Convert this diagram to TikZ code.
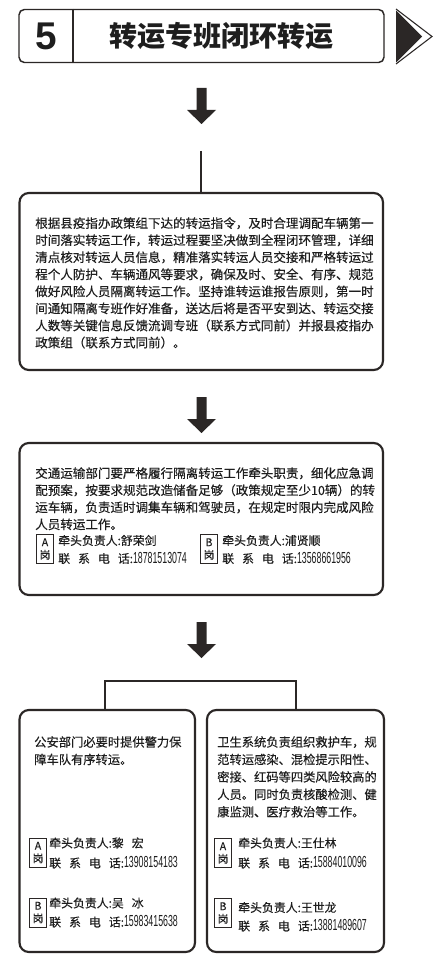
\documentclass[tikz,border=0pt]{standalone}
\usepackage{fontspec}
\setmainfont{Noto Sans CJK SC}[FakeBold=0.3]
\newfontfamily\titlef{Noto Sans CJK SC}
\newfontfamily\latin{Liberation Sans}
\newfontfamily\digitf[FakeStretch=0.55]{Liberation Sans}
\usetikzlibrary{fit}
\definecolor{ink}{HTML}{2B2726}
\definecolor{txt}{HTML}{1E1E1E}
\tikzset{
  every node/.style={text=txt},
  box/.style={draw=ink, line width=1.6pt, rounded corners=7pt, inner sep=0pt},
  hbox/.style={draw=ink, line width=1.1pt, rounded corners=4pt, inner sep=0pt},
  para/.style={anchor=north west, inner sep=0pt, align=left, font=\fontsize{9.4pt}{12.8pt}\selectfont},
  paras/.style={anchor=north west, inner sep=0pt, align=left, font=\fontsize{9.2pt}{13.1pt}\selectfont},
  gang/.style={draw=ink, line width=0.6pt, inner sep=0pt, minimum width=12.75pt, minimum height=21.75pt, align=center, font=\fontsize{8pt}{9.5pt}\selectfont},
  contact/.style={anchor=base west, inner sep=0pt, font=\fontsize{8.9pt}{10pt}\selectfont},
  link/.style={draw=ink, line width=0.8pt},
}
\newcommand\tel[1]{联\hspace{6pt}系\hspace{6pt}电\hspace{6pt}话:{\digitf\fontsize{12pt}{12pt}\selectfont #1}}
\newcommand\blockarrow[2]{\fill[ink] ({#1-5},#2) -- ({#1+5},#2) -- ({#1+5},{#2+22}) -- ({#1+14.5},{#2+22}) -- (#1,{#2+36}) -- ({#1-14.5},{#2+22}) -- ({#1-5},{#2+22}) -- cycle;}
\begin{document}
\begin{tikzpicture}[x=0.75pt, y=-0.75pt]
\useasboundingbox[fill=white] (0,0) rectangle (438,973);

% header
\node[hbox, fit={(19,9.5) (384,62.5)}] (hdr) {};
\coordinate (dv) at (73,36);
\draw[ink, line width=1.1pt] (dv |- hdr.north) -- (dv |- hdr.south);
\node (num) at (46.5,36) {\latin\bfseries\fontsize{29pt}{30pt}\selectfont 5};
\node (title) at (221,36) {\titlef\fontsize{21pt}{24pt}\selectfont\bfseries 转运专班闭环转运};
\fill[ink] (396,10.5) -- (422,36.5) -- (396,62.5) -- cycle;
\draw[ink, line width=0.8pt] (396,9) -- (432,36.5) -- (396,64);

% arrow 1 and box 1
\blockarrow{201.5}{88}
\node[box, fit={(19.5,193) (383,370)}] (b1) {};
\coordinate (a1end) at (201,151);
\draw[link] (a1end) -- (a1end |- b1.north);
\node[para] (t1) at (35,217) {根据县疫指办政策组下达的转运指令，及时合理调配车辆第一\\
时间落实转运工作，转运过程要坚决做到全程闭环管理，详细\\
清点核对转运人员信息，精准落实转运人员交接和严格转运过\\
程个人防护、车辆通风等要求，确保及时、安全、有序、规范\\
做好风险人员隔离转运工作。坚持谁转运谁报告原则，第一时\\
间通知隔离专班作好准备，送达后将是否平安到达、转运交接\\
人数等关键信息反馈流调专班（联系方式同前）并报县疫指办\\
政策组（联系方式同前）。};

% arrow 2 and box 2
\blockarrow{201.5}{397}
\node[box, fit={(19.5,443) (383,595)}] (b2) {};
\node[para] (t2) at (35,467) {交通运输部门要严格履行隔离转运工作牵头职责，细化应急调\\
配预案，按要求规范改造储备足够（政策规定至少10辆）的转\\
运车辆，负责适时调集车辆和驾驶员，在规定时限内完成风险\\
人员转运工作。};
\node[gang] (ga2) at (45,549) {A\\岗};
\node[contact] (na2) at (58,545) {牵头负责人:舒荣剑};
\node[contact] (pa2) at (58,563) {\tel{18781513074}};
\node[gang] (gb2) at (209,549) {B\\岗};
\node[contact] (nb2) at (222,545) {牵头负责人:浦贤顺};
\node[contact] (pb2) at (222,563) {\tel{13568661956}};

% arrow 3 and split
\blockarrow{201.5}{622}
\node[box, fit={(19.5,710) (195,952)}] (l) {};
\node[box, fit={(207,710) (384,952)}] (r) {};
\coordinate (bl) at (105,681);
\coordinate (br) at (296,681);
\draw[link] (bl |- l.north) -- (bl) -- (br) -- (br |- r.north);

\node[paras] (tl) at (34,736) {公安部门必要时提供警力保\\障车队有序转运。};
\node[paras] (tr) at (217,736) {卫生系统负责组织救护车，规\\
范转运感染、混检提示阳性、\\
密接、红码等四类风险较高的\\
人员。同时负责核酸检测、健\\
康监测、医疗救治等工作。};

\node[gang] (gal) at (38,852.5) {A\\岗};
\node[contact] (nal) at (49,847.5) {牵头负责人:黎\hspace{6pt}宏};
\node[contact] (pal) at (49,867.5) {\tel{13908154183}};
\node[gang] (gbl) at (38,912.5) {B\\岗};
\node[contact] (nbl) at (49,907.5) {牵头负责人:吴\hspace{6pt}冰};
\node[contact] (pbl) at (49,926.5) {\tel{15983415638}};

\node[gang] (gar) at (223,853) {A\\岗};
\node[contact] (nar) at (238,847.5) {牵头负责人:王仕林};
\node[contact] (par) at (238,867.5) {\tel{15884010096}};
\node[gang] (gbr) at (223,913) {B\\岗};
\node[contact] (nbr) at (238,912) {牵头负责人:王世龙};
\node[contact] (pbr) at (238,930.5) {\tel{13881489607}};
\end{tikzpicture}
\end{document}
